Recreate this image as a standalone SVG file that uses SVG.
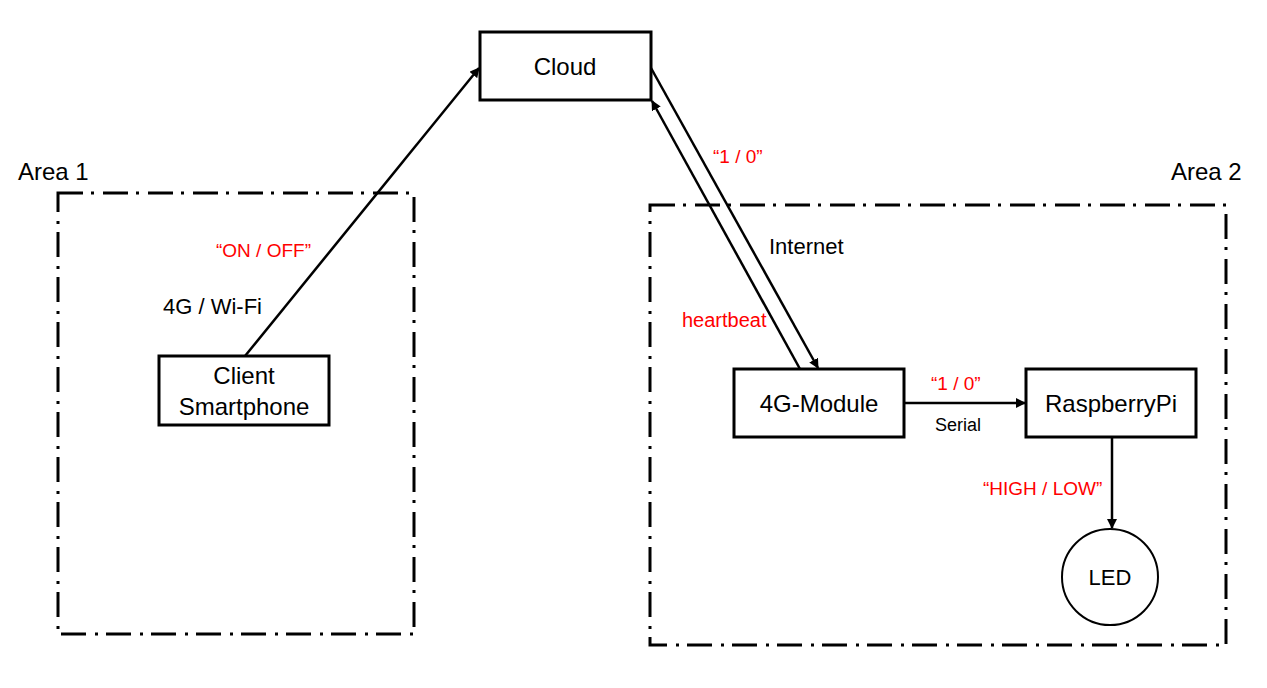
<svg xmlns="http://www.w3.org/2000/svg" width="1267" height="688" viewBox="0 0 1267 688">
<defs>
<style>
.node{fill:#fff;stroke:#000;stroke-width:3}
.area{fill:none;stroke:#000;stroke-width:3;stroke-dasharray:25 8 3 9}
.conn{stroke:#000;stroke-width:2.5;fill:none}
text{font-family:"Liberation Sans",Arial,sans-serif}
.lbl{font-size:24px;text-anchor:middle;fill:#000}
.small{font-size:22px;fill:#000}
.red{font-size:19px;fill:#ff0000}
</style>
<marker id="arr" viewBox="0 0 10 10" refX="9" refY="5" markerWidth="4" markerHeight="4" orient="auto" markerUnits="strokeWidth">
<path d="M0,0 L10,5 L0,10 z" fill="#000"/>
</marker>
</defs>
<rect width="1267" height="688" fill="#fff"/>
<g id="area1">
<rect class="area" x="58" y="193" width="356" height="441"/>
<text x="18" y="180" style="font-size:24px">Area 1</text>
</g>
<g id="area2">
<rect class="area" x="650" y="205" width="576" height="440"/>
<text x="1171" y="180" style="font-size:24px">Area 2</text>
</g>
<g id="connectors">
<line class="conn" x1="245" y1="356" x2="479" y2="68" marker-end="url(#arr)"/>
<line class="conn" x1="651" y1="68" x2="818" y2="368" marker-end="url(#arr)"/>
<line class="conn" x1="800" y1="369" x2="652" y2="101" marker-end="url(#arr)"/>
<line class="conn" x1="904" y1="403" x2="1025" y2="403" marker-end="url(#arr)"/>
<line class="conn" x1="1112" y1="437" x2="1112" y2="528" marker-end="url(#arr)"/>
<text class="red" x="216" y="257">“ON / OFF”</text>
<text class="small" x="163" y="314">4G / Wi-Fi</text>
<text class="red" x="713" y="163">“1 / 0”</text>
<text class="small" x="769" y="254">Internet</text>
<text class="red" x="682" y="327" style="font-size:20px">heartbeat</text>
<text class="red" x="931" y="390">“1 / 0”</text>
<text class="small" x="935" y="431" style="font-size:18px">Serial</text>
<text class="red" x="983" y="495">“HIGH / LOW”</text>
</g>
<g id="cloud">
<rect class="node" x="480" y="32" width="171" height="68"/>
<text class="lbl" x="565" y="75">Cloud</text>
</g>
<g id="smartphone">
<rect class="node" x="159" y="356" width="170" height="69"/>
<text class="lbl" x="244" y="384">Client</text>
<text class="lbl" x="244" y="415">Smartphone</text>
</g>
<g id="module4g">
<rect class="node" x="734" y="369" width="170" height="68"/>
<text class="lbl" x="819" y="412">4G-Module</text>
</g>
<g id="raspberrypi">
<rect class="node" x="1026" y="369" width="170" height="68"/>
<text class="lbl" x="1111" y="412">RaspberryPi</text>
</g>
<g id="led">
<circle cx="1110" cy="577" r="48" fill="#fff" stroke="#000" stroke-width="2"/>
<text class="lbl" x="1110" y="585" style="font-size:22px">LED</text>
</g>
</svg>
